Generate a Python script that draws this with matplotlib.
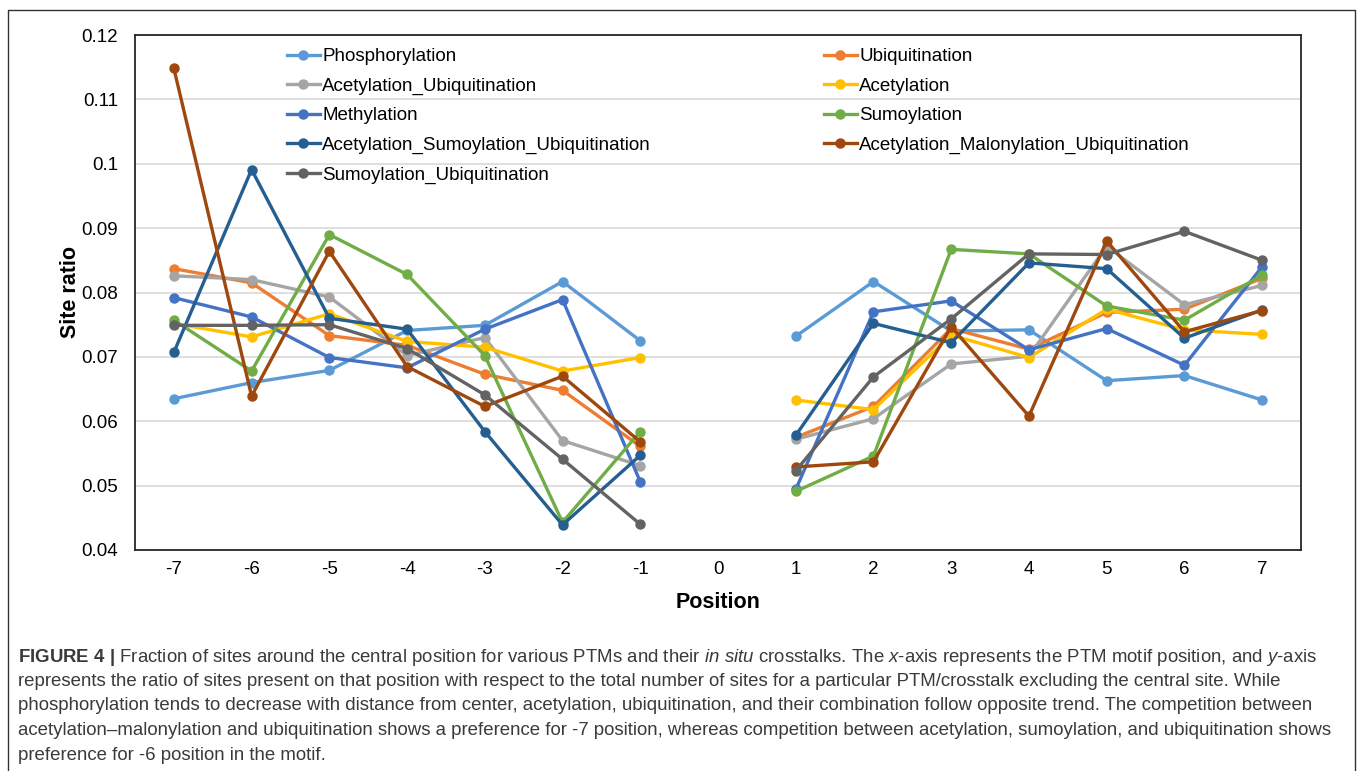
import numpy as np
import matplotlib
matplotlib.use('Agg')
import matplotlib.pyplot as plt
from matplotlib import font_manager
from matplotlib.lines import Line2D

# 数据
positions = list(range(-7, 8))
nan = np.nan
phos    = [0.0635, 0.0660, 0.0679, 0.0741, 0.0749, 0.0817, 0.0725, nan, 0.0732, 0.0817, 0.0740, 0.0742, 0.0663, 0.0671, 0.0633]
ubiq    = [0.0837, 0.0815, 0.0733, 0.0718, 0.0673, 0.0648, 0.0561, nan, 0.0575, 0.0623, 0.0744, 0.0712, 0.0769, 0.0774, 0.0822]
acub    = [0.0826, 0.0820, 0.0793, 0.0702, 0.0730, 0.0570, 0.0531, nan, 0.0572, 0.0604, 0.0689, 0.0701, 0.0872, 0.0781, 0.0811]
acet    = [0.0752, 0.0731, 0.0767, 0.0724, 0.0715, 0.0678, 0.0699, nan, 0.0633, 0.0618, 0.0734, 0.0699, 0.0774, 0.0742, 0.0735]
meth    = [0.0792, 0.0762, 0.0699, 0.0683, 0.0743, 0.0789, 0.0506, nan, 0.0494, 0.0770, 0.0787, 0.0711, 0.0744, 0.0687, 0.0840]
sumo    = [0.0757, 0.0678, 0.0890, 0.0828, 0.0702, 0.0443, 0.0584, nan, 0.0491, 0.0546, 0.0867, 0.0860, 0.0779, 0.0757, 0.0827]
acsuub  = [0.0707, 0.0991, 0.0760, 0.0743, 0.0584, 0.0439, 0.0547, nan, 0.0578, 0.0752, 0.0722, 0.0846, 0.0837, 0.0729, 0.0773]
acmalub = [0.1148, 0.0639, 0.0864, 0.0685, 0.0623, 0.0670, 0.0568, nan, 0.0529, 0.0537, 0.0747, 0.0608, 0.0880, 0.0739, 0.0772]
suub    = [0.0749, 0.0749, 0.0750, 0.0713, 0.0641, 0.0541, 0.0440, nan, 0.0523, 0.0669, 0.0759, 0.0860, 0.0859, 0.0895, 0.0850]

names = ['Phosphorylation', 'Ubiquitination', 'Acetylation_Ubiquitination', 'Acetylation',
         'Methylation', 'Sumoylation', 'Acetylation_Sumoylation_Ubiquitination',
         'Acetylation_Malonylation_Ubiquitination', 'Sumoylation_Ubiquitination']
series = [phos, ubiq, acub, acet, meth, sumo, acsuub, acmalub, suub]
colors = ['#5B9BD5', '#ED7D31', '#A5A5A5', '#FFC000', '#4472C4',
          '#70AD47', '#255E91', '#9E480E', '#636363']

caption_lines = [
    r'$\mathbf{FIGURE\ 4\ |}$ Fraction of sites around the central position for various PTMs and their $\mathit{in\ situ}$ crosstalks. The $\mathit{x}$-axis represents the PTM motif position, and $\mathit{y}$-axis',
    'represents the ratio of sites present on that position with respect to the total number of sites for a particular PTM/crosstalk excluding the central site. While',
    'phosphorylation tends to decrease with distance from center, acetylation, ubiquitination, and their combination follow opposite trend. The competition between',
    'acetylation\u2013malonylation and ubiquitination shows a preference for -7 position, whereas competition between acetylation, sumoylation, and ubiquitination shows',
    'preference for -6 position in the motif.',
]

installed = {f.name for f in font_manager.fontManager.ttflist}
cap_font = 'Liberation Sans Narrow' if 'Liberation Sans Narrow' in installed else 'Liberation Sans'
cap_size = 15 if cap_font == 'Liberation Sans Narrow' else 13.4

plt.rcParams['font.family'] = ['Liberation Sans', 'DejaVu Sans']
plt.rcParams['mathtext.fontset'] = 'custom'
plt.rcParams['mathtext.rm'] = cap_font
plt.rcParams['mathtext.it'] = cap_font + ':italic'
plt.rcParams['mathtext.bf'] = cap_font + ':bold'

W, H = 1357, 771
fig = plt.figure(figsize=(W / 100, H / 100), dpi=100)
# 外框
fig.add_artist(Line2D([8 / W, 8 / W, 1355 / W, 1355 / W], [-0.01, 1 - 10 / H, 1 - 10 / H, -0.01],
                      transform=fig.transFigure, color='#333333', lw=1.0))

ax = fig.add_axes([135 / W, 1 - 550 / H, (1301 - 135) / W, (550 - 35) / H])
for s, c, n in zip(series, colors, names):
    ax.plot(positions, s, color=c, lw=2.4, marker='o', ms=6.5, label=n)

ax.set_xlim(-7.5, 7.5)
ax.set_ylim(0.04, 0.12)
ax.set_xticks(positions)
ax.set_xticklabels([str(p) for p in positions])
yt = np.arange(0.04, 0.1201, 0.01)
ax.set_yticks(yt)
ax.set_yticklabels(['%g' % round(v, 2) for v in yt])
ax.grid(axis='y', color='#D9D9D9', lw=1.2)
ax.set_axisbelow(True)
for sp in ax.spines.values():
    sp.set_color('#262626')
    sp.set_linewidth(1.3)
ax.tick_params(axis='both', length=0, labelsize=13.5, colors='#000000')
ax.tick_params(axis='y', pad=12)
ax.tick_params(axis='x', pad=8)
ax.set_xlabel('Position', fontsize=15.5, fontweight='bold', labelpad=10)
ax.set_ylabel('Site ratio', fontsize=15.5, fontweight='bold', labelpad=0.5)

# 图例：两列
handles, labels = ax.get_legend_handles_labels()
col1 = [0, 2, 4, 6, 8]
col2 = [1, 3, 5, 7]
leg_kw = dict(frameon=False, fontsize=13.5, handlelength=1.75, handletextpad=0.12,
              labelspacing=0.66, borderpad=0, borderaxespad=0, loc='upper left')
leg1 = ax.legend([handles[i] for i in col1], [labels[i] for i in col1],
                 bbox_to_anchor=(287 / W, 1 - 48 / H), bbox_transform=fig.transFigure, **leg_kw)
ax.add_artist(leg1)
ax.legend([handles[i] for i in col2], [labels[i] for i in col2],
          bbox_to_anchor=(824 / W, 1 - 48 / H), bbox_transform=fig.transFigure, **leg_kw)

# 图注
for i, line in enumerate(caption_lines):
    fig.text(18 / W, 1 - (657 + 24.5 * i) / H, line, fontsize=cap_size, family=cap_font,
             color='#3a3a3a', va='center', ha='left')

fig.savefig('out.png', dpi=100)
